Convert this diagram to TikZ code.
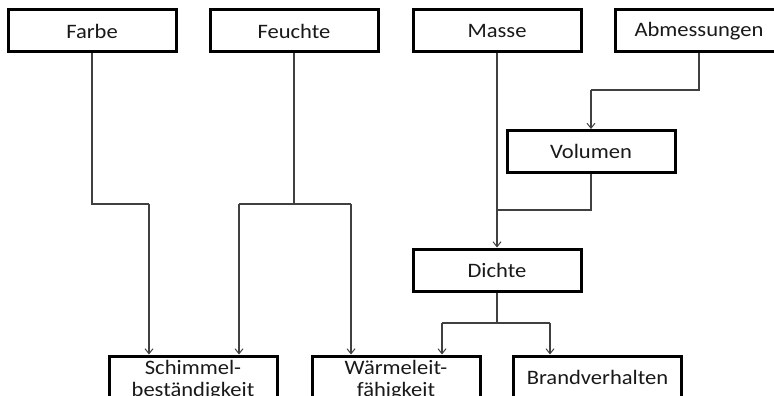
\documentclass[tikz,border=0pt]{standalone}
\usepackage{fontspec}
\setmainfont{Carlito}[FakeStretch=1.1]
\usetikzlibrary{arrows.meta}
\tikzset{
  box/.style={draw=black, line width=3pt, minimum width=168pt, minimum height=42pt,
    inner sep=0pt, fill=white, text=black!90, font=\fontsize{20.5}{21.5}\selectfont, align=center},
  tallbox/.style={box, minimum height=48pt},
  conn/.style={draw=black!75, line width=1.2pt},
  arr/.style={conn, -{Straight Barb[length=5pt,width=8pt,line width=1pt]}}
}
\begin{document}
\begin{tikzpicture}[x=1pt,y=-1pt]
\useasboundingbox (0,0) rectangle (774,396);
\clip (0,0) rectangle (774,396);
% nodes
\node[box] (farbe) at (92,31) {Farbe};
\node[box] (feuchte) at (294,31) {Feuchte};
\node[box] (masse) at (497,31) {Masse};
\node[box] (abm) at (699,31) {Abmessungen};
\node[box] (vol) at (591,151.5) {Volumen};
\node[box] (dichte) at (497,270) {Dichte};
\node[tallbox] (schim) at (193,380) {Schimmel-\\[1pt]beständigkeit};
\node[tallbox] (waerme) at (396,380) {Wärmeleit-\\[1pt]fähigkeit};
\node[box] (brand) at (597.5,377) {Brandverhalten};
% coordinates
\coordinate (fa1) at (92,204);
\coordinate (fa2) at (149,204);
\coordinate (fe1) at (294,204);
\coordinate (fe2) at (239,204);
\coordinate (fe3) at (351,204);
\coordinate (ab1) at (699,90);
\coordinate (ab2) at (591,90);
\coordinate (vo1) at (591,210);
\coordinate (vo2) at (497,210);
\coordinate (di1) at (497,323);
\coordinate (di2) at (442,323);
\coordinate (di3) at (550,323);
% connectors
\draw[conn] (farbe.south) -- (fa1) -- (fa2);
\draw[arr] (fa2) -- (fa2 |- schim.north);
\draw[conn] (feuchte.south) -- (fe1);
\draw[conn] (fe2) -- (fe3);
\draw[arr] (fe2) -- (fe2 |- schim.north);
\draw[arr] (fe3) -- (fe3 |- waerme.north);
\draw[arr] (masse.south) -- (dichte.north);
\draw[conn] (abm.south) -- (ab1) -- (ab2);
\draw[arr] (ab2) -- (vol.north);
\draw[conn] (vol.south) -- (vo1) -- (vo2);
\draw[conn] (dichte.south) -- (di1);
\draw[conn] (di2) -- (di3);
\draw[arr] (di2) -- (di2 |- waerme.north);
\draw[arr] (di3) -- (di3 |- brand.north);
\end{tikzpicture}
\end{document}
